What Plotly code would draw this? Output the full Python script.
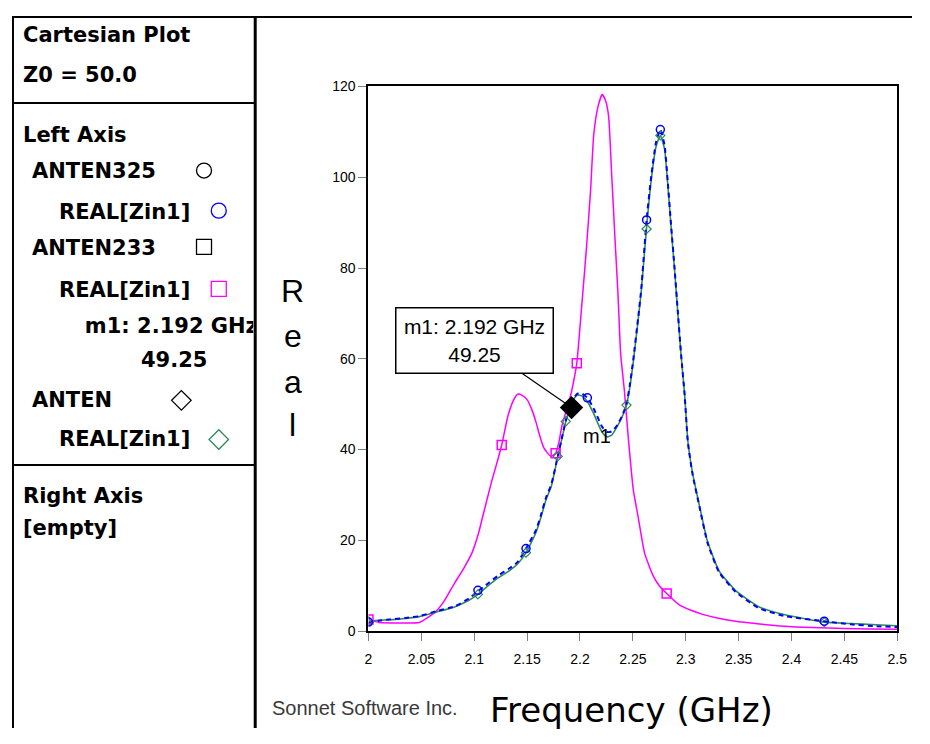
import plotly.graph_objects as go

# ---------------- data ----------------
# ANTEN325  REAL[Zin1]  (blue, dashed)
freq_325 = [2.000, 2.010, 2.020, 2.035, 2.048, 2.064, 2.082, 2.095, 2.1035, 2.113, 2.123, 2.133,
            2.141, 2.149, 2.1585, 2.163, 2.168, 2.173, 2.179, 2.1835, 2.1866, 2.190, 2.193, 2.1975,
            2.202, 2.207, 2.212, 2.216, 2.221, 2.2255, 2.230, 2.235, 2.240, 2.244, 2.247, 2.2505,
            2.255, 2.258, 2.263, 2.2676, 2.272, 2.276, 2.280, 2.283, 2.286, 2.2895, 2.2925, 2.2956,
            2.299, 2.302, 2.3065, 2.313, 2.3206, 2.3315, 2.347, 2.369, 2.394, 2.431, 2.456, 2.480, 2.500]
real_325 = [1.8, 2.3, 2.6, 2.9, 3.3, 4.4, 5.5, 7.2, 8.8, 10.5, 12.3, 13.8,
            15.2, 18.2, 22.3, 25.5, 29.5, 32.4, 38.5, 43.2, 46.4, 49.2, 51.0, 52.3,
            52.3, 51.4, 49.5, 47.5, 45.0, 43.9, 44.0, 45.3, 47.5, 50.0, 54.0, 60.0,
            69.0, 75.5, 90.6, 100.6, 107.8, 110.5, 107.0, 99.0, 89.9, 79.8, 70.5, 61.0,
            52.0, 41.7, 34.5, 27.4, 19.5, 13.0, 8.7, 5.1, 3.3, 2.2, 1.5, 1.1, 0.9]
mk_freq_325 = [2.000, 2.1035, 2.149, 2.207, 2.263, 2.276, 2.431]
mk_real_325 = [2.0, 9.0, 18.2, 51.4, 90.6, 110.5, 2.2]

# ANTEN233  REAL[Zin1]  (magenta)
freq_233 = [2.000, 2.010, 2.030, 2.048, 2.056, 2.064, 2.072, 2.082, 2.090, 2.098, 2.104, 2.108,
            2.1165, 2.122, 2.126, 2.132, 2.137, 2.141, 2.145, 2.150, 2.1545, 2.1585, 2.162, 2.166,
            2.1726, 2.177, 2.180, 2.183, 2.187, 2.191, 2.194, 2.197, 2.202, 2.206, 2.210, 2.213,
            2.217, 2.221, 2.224, 2.227, 2.230, 2.233, 2.236, 2.2385, 2.242, 2.246, 2.2505, 2.255,
            2.261, 2.269, 2.275, 2.282, 2.294, 2.305, 2.316, 2.330, 2.347, 2.370, 2.393, 2.420,
            2.450, 2.475, 2.500]
real_233 = [2.6, 1.9, 1.8, 1.9, 3.0, 4.4, 6.8, 10.8, 13.8, 17.3, 21.5, 25.2,
            33.0, 37.5, 41.0, 47.5, 50.8, 52.2, 52.0, 51.0, 48.8, 46.0, 43.0, 40.3,
            38.5, 39.2, 41.5, 45.3, 48.5, 51.8, 55.0, 59.0, 72.6, 84.0, 97.0, 109.3,
            115.5, 118.2, 117.0, 113.6, 100.6, 87.0, 74.0, 61.0, 53.0, 41.8, 31.0, 25.2,
            17.3, 12.3, 10.0, 8.3, 5.8, 4.6, 3.7, 2.9, 2.2, 1.6, 1.1, 0.8,
            0.6, 0.5, 0.4]
mk_freq_233 = [2.000, 2.126, 2.177, 2.197, 2.282]
mk_real_233 = [2.6, 41.0, 39.2, 59.0, 8.3]

# ANTEN  REAL[Zin1]  (green)
freq_ant = [2.000, 2.010, 2.020, 2.035, 2.048, 2.064, 2.082, 2.095, 2.1035, 2.113, 2.123, 2.133,
            2.141, 2.149, 2.1585, 2.163, 2.168, 2.173, 2.179, 2.1835, 2.1866, 2.190, 2.193, 2.1975,
            2.202, 2.207, 2.212, 2.216, 2.221, 2.2255, 2.230, 2.235, 2.240, 2.244, 2.247, 2.2505,
            2.255, 2.258, 2.263, 2.2676, 2.272, 2.276, 2.280, 2.283, 2.286, 2.2895, 2.2925, 2.2956,
            2.299, 2.302, 2.3065, 2.313, 2.3206, 2.3315, 2.347, 2.369, 2.394, 2.431, 2.456, 2.480, 2.500]
real_ant = [2.2, 2.4, 2.5, 2.8, 3.2, 4.2, 5.4, 6.8, 8.1, 10.0, 11.8, 13.3,
            14.8, 17.3, 21.8, 25.0, 29.0, 32.0, 38.5, 43.0, 46.2, 48.8, 50.6, 52.0,
            51.8, 50.6, 48.4, 46.3, 43.8, 42.8, 43.2, 45.0, 47.3, 49.8, 53.5, 59.5,
            68.5, 75.0, 89.0, 99.8, 106.8, 109.2, 106.2, 98.5, 89.5, 79.5, 70.2, 60.8,
            52.0, 41.9, 34.8, 27.6, 19.8, 13.3, 9.0, 5.4, 3.6, 2.0, 1.7, 1.4, 1.2]
mk_freq_ant = [2.000, 2.1035, 2.149, 2.179, 2.1866, 2.244, 2.263, 2.276, 2.431]
mk_real_ant = [2.2, 8.1, 17.3, 38.5, 46.2, 49.8, 88.6, 109.2, 2.0]

# marker m1
m1_freq = 2.192
m1_real = 49.25

# axis ticks
x_tickvals = [2.0, 2.05, 2.1, 2.15, 2.2, 2.25, 2.3, 2.35, 2.4, 2.45, 2.5]
x_ticktext = ["2", "2.05", "2.1", "2.15", "2.2", "2.25", "2.3", "2.35", "2.4", "2.45", "2.5"]
y_tickvals = [0, 20, 40, 60, 80, 100, 120]

# ---------------- styling ----------------
# the page body keeps the browser's 8px margin, so the figure is 16px smaller
# than the window and the helper "page pixel" axis starts at 8
OFF = 8
W, H = 930 - 2 * OFF, 744 - 2 * OFF
BLUE = "#0000FF"
MAGENTA = "#FF00FF"
GREEN = "#2E8B57"
ARIAL = "Liberation Sans, Arial, sans-serif"
BOLD = "DejaVu Sans, sans-serif"


def fx(px):  # page pixel -> paper fraction
    return (px - OFF) / W


def fy(py):
    return 1 - (py - OFF) / H


fig = go.Figure()

fig.add_trace(go.Scatter(x=freq_233, y=real_233, mode="lines",
                         line=dict(color=MAGENTA, width=1.5, shape="spline", smoothing=0.5)))
fig.add_trace(go.Scatter(x=freq_ant, y=real_ant, mode="lines",
                         line=dict(color=GREEN, width=1.6, shape="spline", smoothing=0.5)))
fig.add_trace(go.Scatter(x=freq_325, y=real_325, mode="lines",
                         line=dict(color=BLUE, width=2, dash="5px,4px", shape="spline", smoothing=0.5)))

fig.add_trace(go.Scatter(x=mk_freq_233, y=mk_real_233, mode="markers",
                         marker=dict(symbol="square-open", size=9, color=MAGENTA, line=dict(width=1.5))))
fig.add_trace(go.Scatter(x=mk_freq_ant, y=mk_real_ant, mode="markers",
                         marker=dict(symbol="diamond-open", size=7, color=GREEN, line=dict(width=1.2))))
fig.add_trace(go.Scatter(x=mk_freq_325, y=mk_real_325, mode="markers",
                         marker=dict(symbol="circle-open", size=8, color=BLUE, line=dict(width=1.5))))

fig.add_trace(go.Scatter(x=[m1_freq], y=[m1_real], mode="markers",
                         marker=dict(symbol="diamond", size=18, color="black")))

# legend glyphs on a full-page pixel axis
glyph_x = [203, 218, 203, 218, 180, 218]
glyph_y = [166, 207, 244, 287, 401, 441]
glyph_sym = ["circle-open", "circle-open", "square-open", "square-open", "diamond-open", "diamond-open"]
glyph_col = ["black", BLUE, "black", MAGENTA, "black", GREEN]
fig.add_trace(go.Scatter(x=glyph_x, y=glyph_y, mode="markers", xaxis="x2", yaxis="y2",
                         cliponaxis=False,
                         marker=dict(symbol=glyph_sym, size=15, color=glyph_col,
                                     line=dict(width=1.3, color=glyph_col))))

# marker readout inside the left panel (clipped by the panel border like the original)
fig.add_trace(go.Scatter(x=[82], y=[327], mode="text", xaxis="x3", yaxis="y2",
                         text=["<b>m1: %.3f GHz</b>" % m1_freq], textposition="middle right",
                         cliponaxis=True,
                         textfont=dict(family=BOLD, size=21, color="black")))

PX_L, PX_R, PX_T, PX_B = 370, 907, 80, 637
PANEL_R = 255

fig.update_layout(
    width=W, height=H,
    margin=dict(l=0, r=0, t=0, b=0),
    paper_bgcolor="white", plot_bgcolor="rgba(0,0,0,0)",
    showlegend=False,
    xaxis=dict(domain=[fx(PX_L), fx(PX_R)], range=[2.0, 2.5],
               tickvals=x_tickvals, ticktext=x_ticktext,
               ticks="outside", ticklen=8, tickcolor="#808080", tickwidth=1,
               ticklabelstandoff=6,
               showline=True, linecolor="black", linewidth=2, mirror=True,
               showgrid=False, zeroline=False,
               tickfont=dict(family=ARIAL, size=14, color="black")),
    yaxis=dict(domain=[fy(PX_B), fy(PX_T)], range=[0, 120],
               tickvals=y_tickvals,
               ticks="outside", ticklen=8, tickcolor="#808080", tickwidth=1,
               showline=True, linecolor="black", linewidth=2, mirror=True,
               showgrid=False, zeroline=False,
               tickfont=dict(family=ARIAL, size=14, color="black")),
    xaxis2=dict(domain=[0, 1], range=[OFF, OFF + W], visible=False, anchor="y2", fixedrange=True),
    yaxis2=dict(domain=[0, 1], range=[OFF + H, OFF], visible=False, anchor="x2", fixedrange=True),
    xaxis3=dict(domain=[0, fx(PANEL_R - 2)], range=[OFF, PANEL_R - 2], visible=False,
                anchor="y2", fixedrange=True),
)


# left panel frame
def pline(x0, y0, x1, y1, w=2, c="black"):
    fig.add_shape(type="line", xref="x2", yref="y2", x0=x0, y0=y0, x1=x1, y1=y1,
                  line=dict(color=c, width=w))


pline(8, 9, 930, 9, 2)
pline(9, 8, 9, 744, 2)
pline(PANEL_R, 8, PANEL_R, 744, 3)
pline(8, 97, PANEL_R, 97, 2)
pline(8, 467, PANEL_R, 467, 2)

# left panel texts
panel_texts = [
    ("Cartesian Plot", 17, 27),
    ("Z0 = 50.0", 17, 68),
    ("Left Axis", 17, 130),
    ("ANTEN325", 26, 166),
    ("REAL[Zin1]", 54, 208),
    ("ANTEN233", 26, 245),
    ("REAL[Zin1]", 54, 288),
    ("%.2f" % m1_real, 137, 360),
    ("ANTEN", 26, 401),
    ("REAL[Zin1]", 54, 441),
    ("Right Axis", 17, 499),
    ("[empty]", 17, 531),
]
for txt, x, y in panel_texts:
    fig.add_annotation(xref="x2", yref="y2", x=x, y=y, text="<b>" + txt + "</b>",
                       showarrow=False, xanchor="left", yanchor="middle",
                       font=dict(family=BOLD, size=21, color="black"))

# y axis title (stacked letters)
for ch, y in zip(["R", "e", "a", "l"], [289, 335, 382, 426]):
    fig.add_annotation(xref="x2", yref="y2", x=293, y=y, text=ch, showarrow=False,
                       xanchor="center", yanchor="middle",
                       font=dict(family=ARIAL, size=32, color="black"))

# x axis title and credit
fig.add_annotation(xref="x2", yref="y2", x=637, y=718, text="Frequency (GHz)", showarrow=False,
                   xanchor="center", yanchor="middle",
                   font=dict(family="DejaVu Sans, sans-serif", size=34, color="black"))
fig.add_annotation(xref="x2", yref="y2", x=270, y=716, text="Sonnet Software Inc.", showarrow=False,
                   xanchor="left", yanchor="middle",
                   font=dict(family=ARIAL, size=20, color="#3a3a3a"))

# marker m1 callout
fig.add_annotation(x=m1_freq, y=m1_real, xref="x", yref="y",
                   text="m1: %.3f GHz<br>%.2f" % (m1_freq, m1_real),
                   showarrow=True, arrowhead=0, arrowwidth=1.2, arrowcolor="black",
                   ax=-97, ay=-67, width=152, height=60, align="center",
                   bordercolor="black", borderwidth=1.5, borderpad=2, bgcolor="white",
                   font=dict(family=ARIAL, size=21, color="black"))
fig.add_annotation(x=m1_freq, y=m1_real, xref="x", yref="y", text="m1", showarrow=False,
                   xshift=25, yshift=-28, font=dict(family=ARIAL, size=20, color="black"))

fig.write_html("out.html")
